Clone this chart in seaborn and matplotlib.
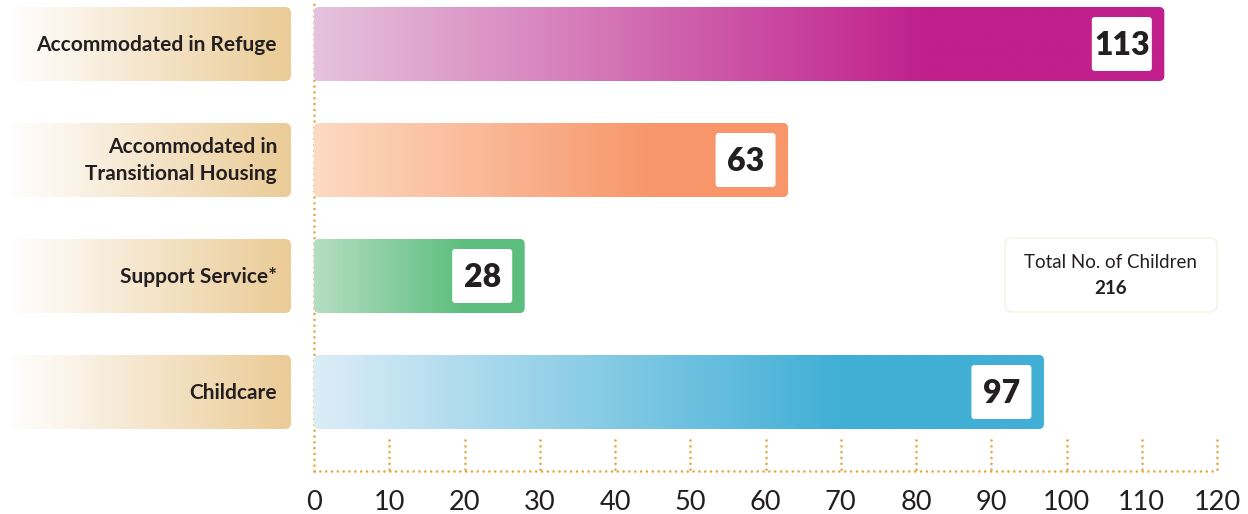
import numpy as np
import pandas as pd
import matplotlib
matplotlib.use("Agg")
import matplotlib.pyplot as plt
import seaborn as sns
from matplotlib.patches import FancyBboxPatch
from matplotlib.colors import to_rgb

# ---------------- data ----------------
categories = ["Accommodated in Refuge",
              "Accommodated in\nTransitional Housing",
              "Support Service*",
              "Childcare"]
values = [113, 63, 28, 97]
start_colors = ["#E6C3DD", "#FDDAC2", "#B5DEC2", "#DBEDF7"]
end_colors = ["#C01F8C", "#F7966A", "#5CBE7E", "#41AFD6"]
x_ticks = list(range(0, 121, 10))
total_label = "Total No. of Children"
total_value = 216

# ---------------- style ----------------
sns.set_style("white")
plt.rcParams["font.family"] = ["Lato", "DejaVu Sans"]
TEXT = "#231F20"
DOT = "#E8A53D"
LABEL_TAN = "#EBCB96"

W, H = 1248, 514
fig = plt.figure(figsize=(W / 100, H / 100), dpi=100)
ax_left_px, ax_right_px = 314, 1217
ax_top_px, ax_bot_px = 0, 471
ax = fig.add_axes([ax_left_px / W, (H - ax_bot_px) / H,
                   (ax_right_px - ax_left_px) / W, (ax_bot_px - ax_top_px) / H])

XMAX = 120
PXX = (ax_right_px - ax_left_px) / XMAX   # px per x unit
PXY = 116.0                               # px per category step
y_top = -44 / PXY
y_bot = 3 + (ax_bot_px - 392) / PXY
ASPECT = PXX / PXY
DOT_STYLE = (0, (0.01, 2.2))
DOT_LW = 1.9

df = pd.DataFrame({"category": categories, "value": values})
sns.barplot(data=df, x="value", y="category", hue="category", order=categories,
            palette=end_colors, orient="h", width=74 / PXY, legend=False, ax=ax)

bars = list(ax.patches)


def gradient_strip(c0, c1, n=256, reach=1.0):
    t = np.linspace(0, 1, n)
    f = np.clip(t / reach, 0, 1)[:, None]
    a, b = np.array(to_rgb(c0)), np.array(to_rgb(c1))
    return (a + (b - a) * f)[None, :, :]


for i, p in enumerate(bars):
    x0, y0, w, h = p.get_x(), p.get_y(), p.get_width(), p.get_height()
    p.set_visible(False)
    clip = FancyBboxPatch((x0, y0), w, h,
                          boxstyle=f"round,pad=0,rounding_size={5 / PXX}",
                          mutation_aspect=ASPECT, fc="none", ec="none",
                          transform=ax.transData)
    ax.add_patch(clip)
    im = ax.imshow(gradient_strip(start_colors[i], end_colors[i], reach=0.72),
                   extent=[x0, x0 + w, y0 + h, y0], aspect="auto",
                   interpolation="bilinear", zorder=2)
    im.set_clip_path(clip)
    # white value box
    bw, bh = 60 / PXX, 54 / PXY
    bx = x0 + w - 12.5 / PXX - bw
    by = y0 + h / 2 - bh / 2
    box = FancyBboxPatch((bx, by), bw, bh,
                         boxstyle=f"round,pad=0,rounding_size={3 / PXX}",
                         mutation_aspect=ASPECT, fc="white", ec="none", zorder=3)
    ax.add_patch(box)
    ax.text(bx + bw / 2, y0 + h / 2 + 0.01, f"{values[i]}", ha="center", va="center",
            fontsize=23, fontweight="heavy", color=TEXT, zorder=4)

# tick marks (dotted) rising from the baseline
tick_len = 31 / PXY
ax.vlines([t for t in x_ticks if t > 0], y_bot - tick_len, y_bot, colors=DOT,
          linewidth=DOT_LW, linestyles=DOT_STYLE, capstyle="round",
          zorder=1, clip_on=False)

# total box
tx0 = (1005 - ax_left_px) / PXX
ty0 = y_top + 238 / PXY
tw = (1217 - 1005) / PXX
th = (312 - 238) / PXY
ax.add_patch(FancyBboxPatch((tx0, ty0), tw, th,
                            boxstyle=f"round,pad=0,rounding_size={7 / PXX}",
                            mutation_aspect=ASPECT, fc="white", ec="#F3EEE2",
                            lw=0.8, zorder=2, clip_on=False))
ax.text(tx0 + tw / 2, y_top + 262 / PXY, total_label, ha="center", va="center",
        fontsize=13.5, color=TEXT, zorder=3)
ax.text(tx0 + tw / 2, y_top + 289 / PXY, f"{total_value}", ha="center", va="center",
        fontsize=13.5, fontweight="bold", color=TEXT, zorder=3)

ax.set_xlim(0, XMAX)
ax.set_ylim(y_bot, y_top)
ax.set_xticks(x_ticks)
ax.set_yticks([])
ax.set_xlabel("")
ax.set_ylabel("")
ax.tick_params(axis="x", length=0, pad=14, labelsize=19.5, labelcolor=TEXT)
for s in ["top", "right"]:
    ax.spines[s].set_visible(False)
for s in ["left", "bottom"]:
    sp = ax.spines[s]
    sp.set_color(DOT)
    sp.set_linewidth(DOT_LW)
    sp.set_linestyle(DOT_STYLE)
    sp.set_capstyle("round")
    sp.set_zorder(1)

# left label panel
axl = fig.add_axes([0, (H - ax_bot_px) / H, ax_left_px / W, (ax_bot_px - ax_top_px) / H])
axl.set_xlim(0, ax_left_px)
axl.set_ylim(y_bot, y_top)
axl.axis("off")
LASP = 1 / PXY
for i, p in enumerate(bars):
    y0, h = p.get_y(), p.get_height()
    lx0, lx1 = 8, 291
    clip = FancyBboxPatch((lx0, y0), lx1 - lx0, h,
                          boxstyle="round,pad=0,rounding_size=6",
                          mutation_aspect=LASP, fc="none", ec="none",
                          transform=axl.transData)
    axl.add_patch(clip)
    im = axl.imshow(gradient_strip("#FFFFFF", LABEL_TAN, reach=1.0),
                    extent=[lx0, lx1, y0 + h, y0], aspect="auto",
                    interpolation="bilinear", zorder=2)
    im.set_clip_path(clip)
    axl.text(277, y0 + h / 2 + 0.005, categories[i], ha="right", va="center",
             fontsize=15, fontweight="bold", color=TEXT, linespacing=1.45, zorder=3)
axl.set_xlim(0, ax_left_px)
axl.set_ylim(y_bot, y_top)

fig.savefig("out.png", dpi=100)
